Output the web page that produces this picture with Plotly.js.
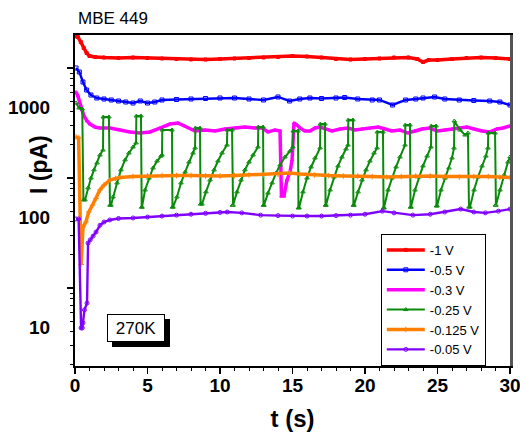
<!DOCTYPE html>
<html><head><meta charset="utf-8">
<script src="https://cdn.plot.ly/plotly-3.0.1.min.js"></script>
<style>html,body{margin:0;padding:0;background:#fff}#chart{width:520px;height:432px}</style>
</head><body><div id="chart"></div><script>
// ---- data: time (s) and current (pA) per bias voltage ----
const red_t = [0, 0.2, 0.4, 0.6, 0.8, 1.0, 1.4, 2, 3, 4, 5, 6, 7, 8, 9, 10, 11, 12, 13, 14, 15, 16, 17, 18, 19, 20, 21, 22, 23, 23.6, 24, 24.4, 25, 26, 27, 28, 29, 30];
const red_i = [4400, 4328, 3899, 3437, 3097, 2908, 2848, 2818, 2789, 2818, 2789, 2760, 2731, 2703, 2703, 2731, 2760, 2789, 2818, 2848, 2908, 2878, 2818, 2731, 2703, 2731, 2760, 2818, 2818, 2731, 2564, 2674, 2674, 2731, 2789, 2818, 2789, 2731];

const blue_t = [0.07, 0.3, 0.55, 0.8, 1.1, 1.5, 2, 2.5, 3, 3.5, 4, 4.5, 5, 5.5, 6, 7, 8, 9, 10, 11, 12, 13, 14, 14.8, 15.5, 16.2, 17, 18, 18.6, 19.5, 20.5, 21, 21.9, 22.8, 23.5, 24, 24.8, 25.5, 26.5, 27.5, 28.6, 29.3, 30];
const blue_i = [2262, 2080, 1687, 1427, 1285, 1207, 1182, 1158, 1134, 1110, 1087, 1134, 1087, 1110, 1158, 1170, 1182, 1195, 1207, 1207, 1182, 1158, 1233, 1134, 1182, 1207, 1195, 1207, 1220, 1182, 1158, 1158, 1043, 1158, 1182, 1207, 1233, 1182, 1158, 1146, 1134, 1110, 1043];

const mag_t = [0.07, 0.2, 0.34, 0.48, 0.62, 0.83, 1.03, 1.38, 1.72, 2.41, 3.1, 3.79, 4.48, 5.17, 5.86, 6.55, 7.1, 7.59, 8.28, 8.97, 9.66, 10.34, 11.03, 11.72, 12.41, 12.9, 13.31, 13.79, 14.14, 14.24, 14.41, 14.62, 14.83, 14.97, 15.1, 15.31, 15.52, 15.86, 16.21, 16.55, 16.9, 17.24, 17.72, 18.28, 18.83, 19.31, 19.79, 20.34, 20.9, 21.38, 21.86, 22.41, 22.97, 23.45, 23.93, 24.48, 24.97, 25.52, 26.0, 26.55, 27.03, 27.52, 28.07, 28.62, 29.1, 29.52, 30];
const mag_i = [1369, 1259, 1087, 939, 828, 746, 700, 658, 644, 644, 618, 593, 580, 593, 644, 700, 715, 672, 605, 618, 605, 631, 644, 658, 644, 644, 593, 618, 605, 155, 155, 217, 256, 330, 715, 686, 644, 605, 605, 644, 658, 631, 605, 631, 644, 618, 631, 644, 658, 631, 605, 618, 580, 605, 631, 644, 605, 618, 631, 644, 658, 631, 605, 593, 631, 644, 672];

const grn_t = [0.07, 0.28, 0.5, 0.58,
  0.69, 0.9, 1.1, 1.31, 1.52, 1.72, 1.93, 1.95, 2.34, 2.41,
  2.48, 2.62, 2.9, 3.17, 3.45, 3.72, 4.0, 4.21, 4.23, 4.55, 4.6,
  4.62, 4.83, 5.1, 5.38, 5.66, 5.93, 6.0, 6.02, 6.69, 6.72,
  6.76, 7.03, 7.31, 7.59, 7.86, 8.14, 8.28, 8.3, 8.62, 8.66,
  8.76, 9.03, 9.31, 9.59, 9.86, 10.14, 10.48, 10.5, 10.83, 10.86,
  10.9, 11.17, 11.45, 11.72, 12.0, 12.28, 12.62, 12.64, 12.97, 13.0,
  13.03, 13.31, 13.59, 13.86, 14.14, 14.48, 14.83, 15.03, 15.05, 15.38, 15.41,
  15.45, 15.72, 16.0, 16.28, 16.55, 16.9, 16.92, 17.24, 17.28,
  17.31, 17.59, 17.86, 18.14, 18.41, 18.69, 18.83, 18.85, 19.17, 19.2,
  19.24, 19.52, 19.79, 20.07, 20.34, 20.62, 20.83, 20.85, 21.24, 21.28,
  21.31, 21.59, 21.86, 22.14, 22.41, 22.76, 22.78, 23.1, 23.14,
  23.17, 23.45, 23.72, 24.0, 24.28, 24.55, 24.57, 24.9, 24.93,
  24.97, 25.24, 25.52, 25.79, 26.0, 26.14, 26.16, 26.55, 26.9, 27.1, 27.17,
  27.24, 27.52, 27.79, 28.07, 28.34, 28.48, 28.5, 28.97, 29.0,
  29.03, 29.31, 29.59, 29.86, 30];
const grn_i = [1087, 979, 959, 143,
  143, 184, 226, 268, 310, 366, 406, 811, 811, 128,
  128, 152, 204, 268, 330, 382, 433, 471, 828, 828, 123,
  123, 176, 226, 279, 323, 358, 366, 618, 618, 123,
  123, 152, 204, 256, 316, 382, 424, 644, 644, 131,
  131, 169, 217, 268, 323, 382, 451, 618, 618, 128,
  128, 169, 217, 268, 316, 366, 433, 658, 658, 128,
  128, 165, 204, 251, 297, 351, 398, 433, 605, 605, 121,
  121, 169, 226, 285, 344, 424, 700, 700, 128,
  128, 176, 231, 291, 351, 415, 451, 762, 762, 128,
  128, 169, 217, 268, 323, 382, 424, 593, 593, 121,
  121, 176, 226, 285, 351, 451, 686, 686, 123,
  123, 176, 231, 291, 358, 433, 672, 672, 126,
  126, 176, 226, 279, 344, 424, 746, 618, 556, 580, 123,
  123, 176, 231, 291, 358, 424, 580, 580, 128,
  128, 176, 241, 316, 351];

const org_t = [0.07, 0.25, 0.42, 0.55, 0.75, 0.95, 1.2, 1.45, 1.72, 2.0, 2.41, 2.8, 3.1, 4, 5, 6, 7, 8, 9, 10, 11, 12, 13, 14, 14.8, 15.5, 16.5, 17.5, 18.5, 19.5, 20.5, 21.5, 22.5, 23.5, 24.5, 25.5, 26.5, 27.5, 28.5, 29.3, 30];
const org_i = [534, 523, 37, 81, 90, 111, 128, 147, 176, 195, 217, 224, 229, 233, 236, 238, 238, 238, 236, 236, 238, 241, 241, 244, 251, 246, 241, 238, 236, 236, 233, 231, 233, 236, 236, 233, 231, 233, 233, 229, 229];

const pur_t = [0.07, 0.25, 0.42, 0.5, 0.55, 0.65, 0.83, 0.9, 1.05, 1.25, 1.45, 1.72, 2.0, 2.4, 3, 4, 5, 6, 7, 8, 9, 10, 10.5, 11.5, 12.8, 14, 15, 16, 17, 18, 19, 20, 21.2, 22, 23.3, 24.5, 25.5, 26.6, 27.5, 28.3, 29.2, 30];
const pur_i = [96, 96, 9.8, 9.8, 10.9, 14.3, 16.5, 58, 62, 67, 73, 84, 90, 94, 97, 98, 100, 102, 104, 106, 108, 110, 111, 109, 104, 103, 102, 102, 102, 103, 104, 106, 113, 109, 104, 106, 111, 118, 111, 109, 113, 118];

const seriesNames = ['-1 V', '-0.5 V', '-0.3 V', '-0.25 V', '-0.125 V', '-0.05 V'];
const yTickVals = [10, 100, 1000];
const yTickText = ['10', '100', '1000'];

// ---- styling ----
const FONT = 'Liberation Sans, Arial, sans-serif';
const yRange = [0.6455, 3.6545];
const tickBase = 2.262;
const majorMarks = [], minorMarks = [];
for (let k = 0; k <= 3; k++) {
  const d = tickBase * Math.pow(10, k);
  if (k >= 1) majorMarks.push(d);
  for (let m = 2; m <= 9; m++) {
    const v = m * d;
    if (Math.log10(v) > yRange[0] && Math.log10(v) < yRange[1]) minorMarks.push(v);
  }
}

function tr(x, y, name, color, width, symbol, msize) {
  return {x: x, y: y, name: name, type: 'scatter', mode: 'lines+markers',
    line: {color: color, width: width},
    marker: {symbol: symbol, size: msize, color: color, line: {color: color, width: 1}}};
}
const data = [
  tr(red_t, red_i, seriesNames[0], '#ff0000', 3.5, 'square', 3),
  tr(blue_t, blue_i, seriesNames[1], '#0000ff', 2.4, 'square-open', 4),
  tr(mag_t, mag_i, seriesNames[2], '#ff00ff', 3.5, 'triangle-up', 3),
  tr(grn_t, grn_i, seriesNames[3], '#0a8a0a', 2, 'triangle-up-open', 4),
  tr(org_t, org_i, seriesNames[4], '#ff8000', 3.5, 'cross-thin-open', 4),
  tr(pur_t, pur_i, seriesNames[5], '#8000ff', 2.4, 'circle-open', 4),
  // carriers for the tick-mark axis and the right frame line (no visible marks)
  {x: [null], y: [null], xaxis: 'x', yaxis: 'y2', type: 'scatter', mode: 'lines',
   showlegend: false, hoverinfo: 'skip'},
  {x: [null], y: [null], xaxis: 'x', yaxis: 'y3', type: 'scatter', mode: 'lines',
   showlegend: false, hoverinfo: 'skip'}
];

const boldTick = {family: FONT, size: 19, weight: 'bold', color: '#000'};
const layout = {
  width: 520, height: 432,
  margin: {l: 75, r: 10, t: 35, b: 66},
  paper_bgcolor: '#fff', plot_bgcolor: '#fff',
  font: {family: FONT, color: '#000'},
  title: {text: 'MBE 449', x: 0.15, xanchor: 'left', y: 0.958, yanchor: 'middle',
    font: {family: FONT, size: 17, color: '#000'}},
  xaxis: {range: [0, 30], showline: true, linecolor: '#000', linewidth: 2, mirror: true,
    ticks: 'outside', ticklen: 6, tickwidth: 1.5, tickcolor: '#000', tick0: 0, dtick: 5,
    ticklabelstandoff: -5, ticklabeloverflow: 'allow', tickfont: boldTick,
    showgrid: false, zeroline: false,
    minor: {dtick: 1, ticks: 'outside', ticklen: 3, tickwidth: 1, tickcolor: '#000', showgrid: false},
    title: {text: 't (s)', font: {family: FONT, size: 24, weight: 'bold', color: '#000'}, standoff: 18}},
  yaxis: {type: 'log', range: yRange, showline: true, linecolor: '#000', linewidth: 2, mirror: false,
    tickvals: yTickVals, ticktext: yTickText, ticks: 'outside', ticklen: 7,
    tickcolor: 'rgba(0,0,0,0)', ticklabelstandoff: 12, tickfont: boldTick,
    showgrid: false, zeroline: false},
  yaxis2: {type: 'log', range: yRange, overlaying: 'y', side: 'left', anchor: 'x',
    showline: false, showgrid: false, zeroline: false, showticklabels: false,
    tickmode: 'array', tickvals: majorMarks, ticks: 'outside', ticklen: 7, tickwidth: 1.5, tickcolor: '#000',
    minor: {tickmode: 'array', tickvals: minorMarks, ticks: 'outside', ticklen: 4, tickwidth: 1,
            tickcolor: '#000', showgrid: false}},
  yaxis3: {type: 'log', range: yRange, overlaying: 'y', side: 'right', anchor: 'x',
    showline: true, linecolor: '#555', linewidth: 2.5, ticks: '', showticklabels: false,
    showgrid: false, zeroline: false},
  legend: {x: 0.703, y: 0.399, xanchor: 'left', yanchor: 'top', bgcolor: '#fff',
    bordercolor: '#000', borderwidth: 1, tracegroupgap: 0, itemwidth: 38,
    font: {family: FONT, size: 13, color: '#000'}},
  showlegend: true,
  annotations: [
    {xref: 'paper', yref: 'paper', x: 0.14, y: 0.115, xanchor: 'center', yanchor: 'middle',
     xshift: 5, yshift: -5,
     text: '&nbsp;', showarrow: false, width: 54, height: 24, borderpad: 1, borderwidth: 1,
     bordercolor: '#000', bgcolor: '#000', font: {family: FONT, size: 17, color: '#000'}},
    {xref: 'paper', yref: 'paper', x: 0.14, y: 0.115, xanchor: 'center', yanchor: 'middle',
     text: '270K', showarrow: false, width: 54, height: 24, borderpad: 1, borderwidth: 1,
     bordercolor: '#000', bgcolor: '#fff', font: {family: FONT, size: 17, color: '#000'}},
    {xref: 'paper', yref: 'paper', x: -0.083, y: 0.61, xanchor: 'center', yanchor: 'middle',
     textangle: -90,
     text: 'I (pA)', showarrow: false, font: {family: FONT, size: 23, weight: 'bold', color: '#000'}}
  ]
};
Plotly.newPlot('chart', data, layout, {displayModeBar: false, staticPlot: true});
</script></body></html>
